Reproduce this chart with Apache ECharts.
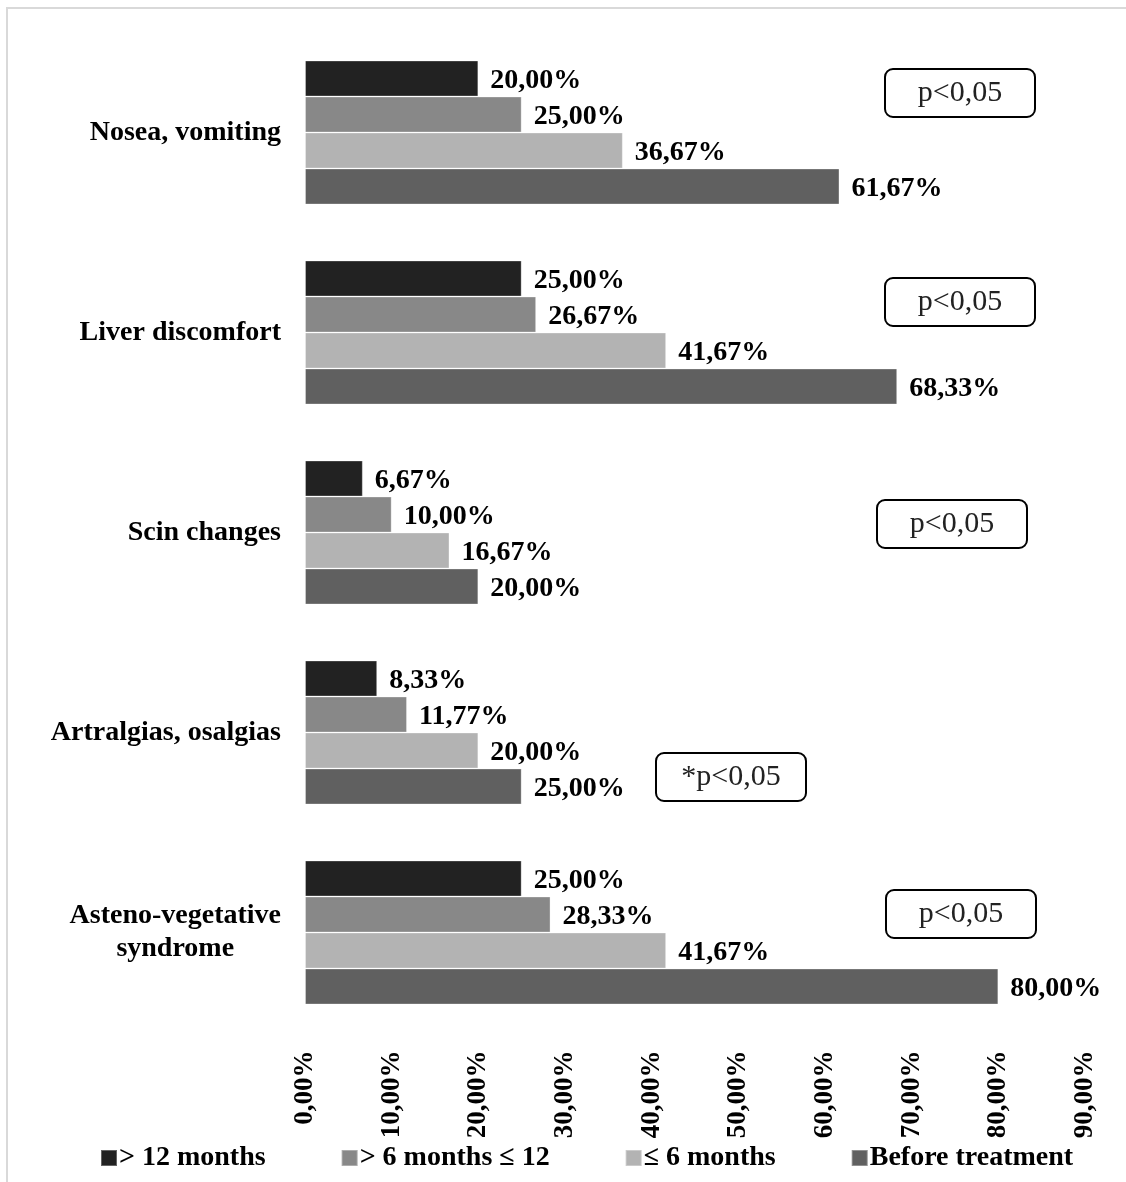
<!DOCTYPE html>
<html>
<head>
<meta charset="utf-8">
<title>Side effects by treatment duration</title>
<script src="https://cdn.jsdelivr.net/npm/echarts@6/dist/echarts.min.js"></script>
<style>
  html, body { margin: 0; padding: 0; background: #ffffff; }
  #chart { width: 1126px; height: 1182px; }
</style>
</head>
<body>
<div id="chart"></div>
<script>
// Symptom groups, top to bottom
const categories = [
  'Nosea, vomiting',
  'Liver discomfort',
  'Scin changes',
  'Artralgias, osalgias',
  'Asteno-vegetative\nsyndrome'
];

// Share of patients with each symptom, in percent
const over12Months = [20.00, 25.00, 6.67, 8.33, 25.00];
const from6To12Months = [25.00, 26.67, 10.00, 11.77, 28.33];
const upTo6Months = [36.67, 41.67, 16.67, 20.00, 41.67];
const beforeTreatment = [61.67, 68.33, 20.00, 25.00, 80.00];

const seriesNames = ['> 12 months', '> 6 months \u2264 12', '\u2264 6 months', 'Before treatment'];
const seriesColors = ['#222222', '#888888', '#b3b3b3', '#606060'];

// Significance notes shown beside each group
const pNotes = ['p<0,05', 'p<0,05', 'p<0,05', '*p<0,05', 'p<0,05'];

const serif = '"Liberation Serif", "Times New Roman", serif';
const fmtPct = v => Number(v).toFixed(2).replace('.', ',') + '%';

const chart = echarts.init(document.getElementById('chart'), null, { renderer: 'canvas' });

function barSeries(name, data, color) {
  return {
    name: name,
    type: 'bar',
    data: data,
    barWidth: 36,
    barGap: '0%',
    itemStyle: { color: color, borderColor: 'rgba(255,255,255,0.3)', borderWidth: 1 },
    label: {
      show: true,
      position: 'right',
      distance: 12,
      offset: [0, 2],
      formatter: p => fmtPct(p.value),
      fontFamily: serif,
      fontWeight: 'bold',
      fontSize: 28,
      color: '#000000'
    },
    emphasis: { disabled: true }
  };
}

// Rounded boxes holding the p-value notes
const noteCenters = [[960, 93], [960, 302], [952, 524], [731, 777], [961, 914]];
const noteGraphics = pNotes.map((txt, i) => ({
  type: 'group',
  x: noteCenters[i][0],
  y: noteCenters[i][1],
  children: [
    {
      type: 'rect',
      shape: { x: -75, y: -24, width: 150, height: 48, r: 8 },
      style: { fill: '#ffffff', stroke: '#000000', lineWidth: 2 }
    },
    {
      type: 'text',
      style: {
        text: txt,
        x: 0, y: 0,
        textAlign: 'center',
        textVerticalAlign: 'middle',
        font: '30px ' + serif,
        fill: '#222222'
      }
    }
  ]
}));

const option = {
  backgroundColor: '#ffffff',
  animation: false,
  graphic: [
    {
      type: 'rect',
      shape: { x: 7, y: 8, width: 1300, height: 1300 },
      style: { fill: 'none', stroke: '#d9d9d9', lineWidth: 2 },
      silent: true
    }
  ].concat(noteGraphics),
  legend: {
    data: seriesNames,
    left: 95,
    top: 1139,
    itemWidth: 16,
    itemHeight: 16,
    itemGap: 75,
    icon: 'rect',
    textStyle: {
      fontFamily: serif,
      fontWeight: 'bold',
      fontSize: 28,
      color: '#000000',
      padding: [0, 0, 0, -3]
    },
    selectedMode: false
  },
  grid: {
    left: 305,
    right: 41,
    top: 32.5,
    bottom: 149.5,
    containLabel: false
  },
  xAxis: {
    type: 'value',
    min: 0,
    max: 90,
    interval: 10,
    axisLine: { show: false },
    axisTick: { show: false },
    splitLine: { show: false },
    axisLabel: {
      rotate: 90,
      margin: 18,
      formatter: v => fmtPct(v),
      fontFamily: serif,
      fontWeight: 'bold',
      fontSize: 27,
      color: '#000000'
    }
  },
  yAxis: {
    type: 'category',
    data: categories,
    inverse: true,
    axisLine: { show: false },
    axisTick: { show: false },
    splitLine: { show: false },
    axisLabel: {
      margin: 24,
      fontFamily: serif,
      fontWeight: 'bold',
      fontSize: 28,
      color: '#000000',
      lineHeight: 33,
      formatter: v => v.split('\n').map(s => '{c|' + s + '}').join('\n'),
      rich: {
        c: {
          align: 'center',
          fontFamily: serif,
          fontWeight: 'bold',
          fontSize: 28,
          lineHeight: 33,
          color: '#000000'
        }
      }
    }
  },
  series: [
    barSeries(seriesNames[0], over12Months, seriesColors[0]),
    barSeries(seriesNames[1], from6To12Months, seriesColors[1]),
    barSeries(seriesNames[2], upTo6Months, seriesColors[2]),
    barSeries(seriesNames[3], beforeTreatment, seriesColors[3])
  ]
};

chart.setOption(option);
</script>
</body>
</html>
